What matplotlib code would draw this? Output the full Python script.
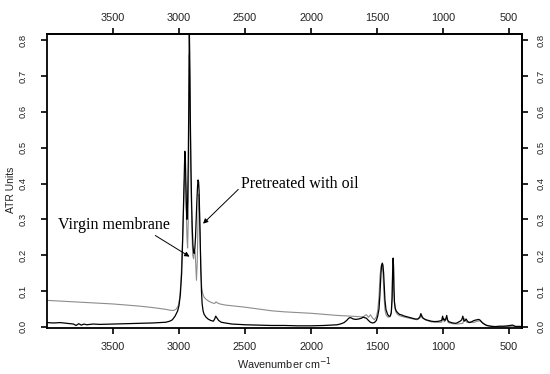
import numpy as np
import matplotlib.pyplot as plt

# black spectrum: (wavenumber, ATR units)
black_pts = [(4000, 0.012), (3950, 0.011), (3900, 0.012), (3850, 0.010), (3800, 0.008), (3780, 0.004),
             (3760, 0.009), (3740, 0.005), (3720, 0.008), (3700, 0.006), (3650, 0.008), (3600, 0.007),
             (3500, 0.008), (3400, 0.009), (3300, 0.010), (3200, 0.011), (3150, 0.012), (3100, 0.013),
             (3070, 0.016), (3050, 0.020), (3030, 0.030), (3010, 0.045), (3000, 0.060), (2990, 0.090),
             (2980, 0.150), (2972, 0.250), (2965, 0.360), (2960, 0.440), (2956, 0.490), (2952, 0.470),
             (2948, 0.400), (2944, 0.330), (2940, 0.300), (2935, 0.350), (2930, 0.460), (2926, 0.620),
             (2922, 0.830), (2919, 0.760), (2915, 0.600), (2910, 0.450), (2905, 0.350), (2900, 0.280),
             (2895, 0.230), (2890, 0.210), (2885, 0.205), (2880, 0.220), (2875, 0.250), (2870, 0.300),
             (2865, 0.350), (2860, 0.390), (2856, 0.410), (2852, 0.405), (2848, 0.380), (2844, 0.320),
             (2840, 0.250), (2835, 0.160), (2830, 0.100), (2825, 0.065), (2818, 0.045), (2810, 0.035),
             (2795, 0.027), (2780, 0.022), (2760, 0.018), (2740, 0.016), (2730, 0.022), (2722, 0.030),
             (2715, 0.026), (2700, 0.018), (2680, 0.013), (2650, 0.011), (2600, 0.008), (2500, 0.006),
             (2400, 0.005), (2300, 0.004), (2200, 0.004), (2100, 0.003), (2000, 0.003), (1900, 0.004),
             (1850, 0.005), (1800, 0.006), (1770, 0.009), (1750, 0.012), (1730, 0.018), (1715, 0.024),
             (1705, 0.026), (1695, 0.025), (1680, 0.022), (1660, 0.021), (1640, 0.022), (1620, 0.024),
             (1605, 0.027), (1595, 0.026), (1580, 0.024), (1565, 0.018), (1550, 0.013), (1535, 0.011),
             (1520, 0.012), (1505, 0.018), (1495, 0.030), (1485, 0.050), (1478, 0.090), (1470, 0.150),
             (1465, 0.172), (1460, 0.178), (1455, 0.172), (1450, 0.150), (1445, 0.110), (1440, 0.075),
             (1432, 0.048), (1420, 0.035), (1410, 0.030), (1400, 0.030), (1392, 0.040), (1386, 0.080),
             (1382, 0.150), (1378, 0.192), (1375, 0.170), (1372, 0.110), (1368, 0.070), (1362, 0.052),
             (1355, 0.045), (1345, 0.040), (1330, 0.035), (1310, 0.033), (1300, 0.031), (1290, 0.030),
             (1270, 0.028), (1250, 0.026), (1230, 0.024), (1210, 0.022), (1190, 0.022), (1175, 0.028),
             (1168, 0.037), (1160, 0.030), (1150, 0.024), (1130, 0.020), (1110, 0.018), (1090, 0.016),
             (1070, 0.015), (1050, 0.015), (1030, 0.016), (1010, 0.018), (1003, 0.030), (998, 0.020),
             (992, 0.022), (985, 0.018), (978, 0.024), (972, 0.032), (966, 0.020), (958, 0.015),
             (945, 0.013), (925, 0.011), (905, 0.010), (895, 0.011), (885, 0.013), (870, 0.016),
             (858, 0.020), (850, 0.030), (845, 0.022), (840, 0.016), (832, 0.018), (825, 0.022),
             (815, 0.016), (808, 0.013), (800, 0.012), (785, 0.014), (770, 0.017), (755, 0.019),
             (740, 0.020), (730, 0.021), (720, 0.019), (710, 0.015), (700, 0.011), (685, 0.007),
             (670, 0.004), (655, 0.003), (640, 0.002), (620, 0.001), (600, 0.001), (570, 0.002),
             (540, 0.002), (510, 0.003), (490, 0.004), (475, 0.005), (465, 0.004), (458, 0.002),
             (450, 0.001), (440, 0.001), (420, 0.001), (400, 0.001)]

# grey spectrum
grey_pts = [(4000, 0.074), (3900, 0.072), (3800, 0.070), (3700, 0.068), (3600, 0.066), (3500, 0.064),
            (3400, 0.061), (3300, 0.058), (3200, 0.054), (3100, 0.049), (3060, 0.046), (3040, 0.046),
            (3020, 0.050), (3005, 0.060), (2995, 0.080), (2985, 0.130), (2975, 0.220), (2967, 0.320),
            (2960, 0.400), (2955, 0.430), (2950, 0.400), (2945, 0.320), (2940, 0.250), (2935, 0.220),
            (2930, 0.300), (2926, 0.480), (2922, 0.760), (2918, 0.700), (2914, 0.550), (2908, 0.380),
            (2902, 0.260), (2896, 0.200), (2890, 0.190), (2884, 0.215), (2878, 0.210), (2872, 0.160),
            (2868, 0.130), (2862, 0.180), (2856, 0.300), (2851, 0.370), (2846, 0.340), (2840, 0.250),
            (2834, 0.160), (2828, 0.110), (2820, 0.092), (2810, 0.083), (2795, 0.077), (2780, 0.073),
            (2760, 0.069), (2740, 0.066), (2728, 0.066), (2720, 0.070), (2710, 0.067), (2690, 0.064),
            (2650, 0.061), (2600, 0.059), (2500, 0.055), (2400, 0.050), (2300, 0.045), (2200, 0.042),
            (2100, 0.040), (2000, 0.038), (1900, 0.035), (1800, 0.032), (1700, 0.030), (1650, 0.029),
            (1620, 0.028), (1600, 0.029), (1588, 0.033), (1580, 0.034), (1572, 0.030), (1565, 0.027),
            (1557, 0.030), (1550, 0.034), (1542, 0.029), (1532, 0.024), (1520, 0.020), (1505, 0.028),
            (1495, 0.045), (1485, 0.085), (1478, 0.140), (1470, 0.168), (1465, 0.175), (1460, 0.170),
            (1455, 0.150), (1450, 0.110), (1445, 0.075), (1440, 0.048), (1432, 0.034), (1420, 0.028),
            (1410, 0.027), (1400, 0.030), (1392, 0.037), (1386, 0.075), (1382, 0.145), (1378, 0.185),
            (1375, 0.165), (1372, 0.105), (1368, 0.066), (1362, 0.048), (1355, 0.040), (1345, 0.035),
            (1330, 0.031), (1300, 0.028), (1250, 0.024), (1200, 0.020), (1175, 0.025), (1168, 0.033),
            (1160, 0.026), (1130, 0.019), (1090, 0.014), (1050, 0.013), (1010, 0.013), (1000, 0.025),
            (990, 0.014), (972, 0.024), (960, 0.012), (930, 0.009), (890, 0.008), (850, 0.010),
            (840, 0.024), (820, 0.013), (800, 0.014), (770, 0.012), (740, 0.016), (720, 0.017),
            (700, 0.011), (670, 0.005), (640, 0.002), (600, 0.001), (550, 0.001), (500, 0.001),
            (460, 0.002), (420, 0.002), (400, 0.001)]

wn_black, ab_black = zip(*black_pts)
wn_grey, ab_grey = zip(*grey_pts)

xticks = [3500, 3000, 2500, 2000, 1500, 1000, 500]
yticks = [0.0, 0.1, 0.2, 0.3, 0.4, 0.5, 0.6, 0.7, 0.8]
ylabels = [f'{v:.1f}' for v in yticks]

fig = plt.figure(figsize=(5.5, 3.74), dpi=100)
ax = fig.add_axes([0.0855, 0.124, 0.864, 0.785])

ax.plot(wn_grey, ab_grey, color='#8c8c8c', lw=0.8)
ax.plot(wn_black, ab_black, color='black', lw=0.9)

ax.set_xlim(4000, 400)
ax.set_ylim(-0.002, 0.817)
ax.set_xticks(xticks)
ax.set_yticks(yticks)
ax.set_yticklabels(ylabels, rotation=90, va='center')

tick_kw = dict(direction='out', length=4, width=1.2, labelcolor='#222222')
ax.tick_params(axis='x', pad=6.3, labelsize=7.8, **tick_kw)
ax.tick_params(axis='y', pad=10, labelsize=6.8, **tick_kw)
for sp in ax.spines.values():
    sp.set_linewidth(1.3)

# top and right labels sit closer to the frame, so draw them on secondary axes
top = ax.secondary_xaxis('top')
top.set_xticks(xticks)
top.tick_params(axis='x', pad=4.3, labelsize=7.8, **tick_kw)
right = ax.secondary_yaxis('right')
right.set_yticks(yticks)
right.set_yticklabels(ylabels, rotation=90, va='center')
right.tick_params(axis='y', pad=6.3, labelsize=6.8, **tick_kw)
for a in (top, right):
    for sp in a.spines.values():
        sp.set_linewidth(1.3)

for lab in (ax.get_xticklabels() + ax.get_yticklabels() +
            top.get_xticklabels() + right.get_yticklabels()):
    lab.set_fontfamily('Liberation Sans')

ax.set_ylabel('ATR Units', fontsize=7.5, family='Liberation Sans', color='#222222')
ax.yaxis.set_label_coords(-0.066, 0.47)
ax.set_xlabel('Wavenumber cm$^{-1}$', fontsize=7.8, family='Liberation Sans', color='#222222')
ax.xaxis.set_label_coords(0.499, -0.094)

ax.annotate('Virgin membrane', xy=(2920, 0.196), xytext=(3917, 0.285),
            fontsize=11.5, family='Liberation Serif', va='center', ha='left',
            arrowprops=dict(arrowstyle='-|>', color='black', lw=0.7, mutation_scale=7,
                            shrinkA=0, shrinkB=0, relpos=(0.83, 0.0)))
ax.annotate('Pretreated with oil', xy=(2818, 0.288), xytext=(2530, 0.40),
            fontsize=11.5, family='Liberation Serif', va='center', ha='left',
            arrowprops=dict(arrowstyle='-|>', color='black', lw=0.7, mutation_scale=7,
                            shrinkA=0, shrinkB=0, relpos=(0.0, 0.3)))

fig.savefig('out.png', dpi=100)
